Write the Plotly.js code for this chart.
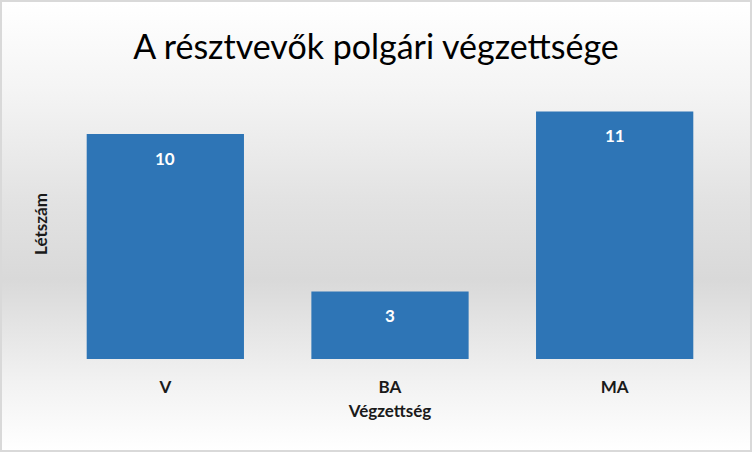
<!DOCTYPE html>
<html>
<head>
<meta charset="utf-8">
<script src="https://cdn.plot.ly/plotly-3.0.1.min.js"></script>
<style>
  html, body { margin: 0; padding: 0; }
  #chart {
    width: 748px; height: 448px;
    border: 2px solid #d9d9d9;
    background: linear-gradient(to bottom, #ffffff 0%, #f4f4f4 20%, #e2e2e2 45%, #d9d9d9 62%, #f2f2f2 85%, #ffffff 100%);
  }
</style>
</head>
<body>
<div id="chart"></div>
<script>
// Végzettség szerinti létszámok
var categories = ['V', 'BA', 'MA'];
var counts = [10, 3, 11];

var font = 'Lato, "Open Sans", sans-serif';

var data = [
    {
        x: categories,
        y: counts,
        type: 'bar',
        marker: {color: '#2e75b6'},
        hoverinfo: 'none'
    }
];

// értékcímkék az oszlopok tetején belül
var labels = [];
for (var i = 0; i < categories.length; i++) {
    labels.push({
        x: categories[i],
        y: counts[i],
        text: String(counts[i]),
        showarrow: false,
        yanchor: 'middle',
        yshift: -24,
        font: {family: font, size: 17, color: '#ffffff', weight: 'bold'}
    });
}

var axisFont = {family: font, size: 17, color: '#1a1a1a', weight: 'bold'};

var layout = {
    width: 748,
    height: 448,
    margin: {l: 51, r: 23, t: 87, b: 91},
    paper_bgcolor: 'rgba(0,0,0,0)',
    plot_bgcolor: 'rgba(0,0,0,0)',
    bargap: 0.3,
    showlegend: false,
    annotations: labels,
    title: {
        text: 'A résztvevők polgári végzettsége',
        font: {family: font, size: 34, color: '#000000'},
        x: 0.5, xanchor: 'center',
        y: 0.9, yanchor: 'middle', yref: 'container'
    },
    xaxis: {
        showgrid: false,
        zeroline: false,
        showline: false,
        ticks: 'outside',
        ticklen: 13,
        tickcolor: 'rgba(0,0,0,0)',
        tickfont: axisFont,
        title: {text: 'Végzettség', font: axisFont, standoff: 8}
    },
    yaxis: {
        range: [0, 12],
        showgrid: false,
        zeroline: false,
        showline: false,
        showticklabels: false,
        title: {text: 'Létszám', font: axisFont, standoff: 0}
    }
};

Plotly.newPlot('chart', data, layout, {displayModeBar: false, staticPlot: true});
</script>
</body>
</html>
